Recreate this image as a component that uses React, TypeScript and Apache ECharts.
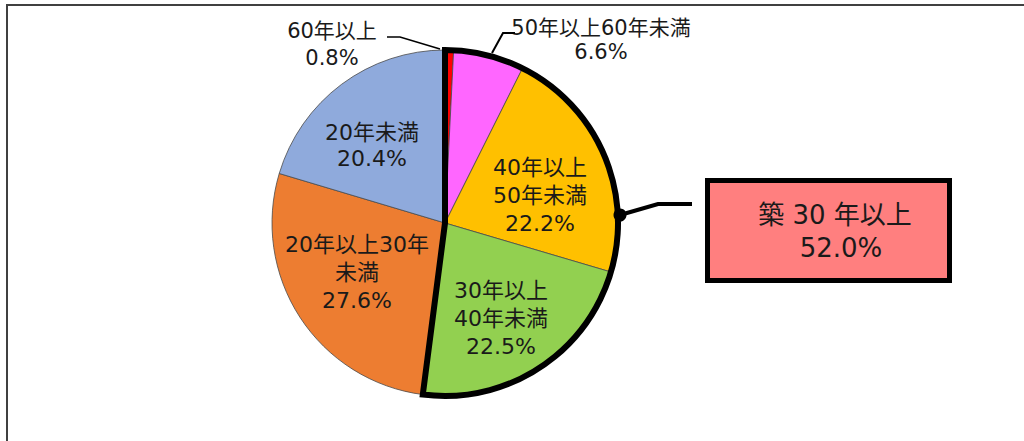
import React, { useEffect, useRef } from 'react';
import * as echarts from 'echarts';

// ---- data ----
const categories = ['60年以上', '50年以上60年未満', '40年以上50年未満', '30年以上40年未満', '20年以上30年未満', '20年未満'];
const labelNames = ['60年以上', '50年以上60年未満', '40年以上\n50年未満', '30年以上\n40年未満', '20年以上30年\n未満', '20年未満'];
const values = [0.8, 6.6, 22.2, 22.5, 27.6, 20.4];
const sliceColors = ['#FF0000', '#FF66FF', '#FFC000', '#92D050', '#ED7D31', '#8FAADC'];
const highlightCount = 4; // first four slices = 築30年以上
const calloutTitle = '築 30 年以上';
const calloutValue = '52.0%';

// ---- layout (positions / styles) ----
const CENTER: [number, number] = [445, 223];
const RADIUS = 173;
const labelPos: [number, number][] = [
  [332, 44],
  [601, 40],
  [540, 195],
  [501, 318],
  [357, 272],
  [372, 145],
];
const labelLineHeights = [27, 24, 28, 28, 28, 26];
const labelFontSizes = [21, 21, 22, 22, 22, 22];
const FONT = "'DejaVu Sans', 'Noto Sans CJK JP', sans-serif";

export default function App() {
  const ref = useRef<HTMLDivElement>(null);
  useEffect(() => {
    if (!ref.current) return;
    const chart = echarts.init(ref.current, undefined, { renderer: 'svg' });
    const highlightSum = values.slice(0, highlightCount).reduce((a, b) => a + b, 0);
    const restSum = values.slice(highlightCount).reduce((a, b) => a + b, 0);

    chart.setOption({
      animation: false,
      backgroundColor: '#ffffff',
      series: [
        {
          type: 'pie',
          center: CENTER,
          radius: RADIUS,
          startAngle: 90,
          clockwise: true,
          avoidLabelOverlap: false,
          silent: true,
          z: 2,
          itemStyle: { borderColor: '#4a4a4a', borderWidth: 0.8 },
          label: {
            show: true,
            position: 'inside',
            color: '#1a1a1a',
            fontFamily: FONT,
            formatter: (p: any) => `${labelNames[p.dataIndex]}\n${values[p.dataIndex].toFixed(1)}%`,
          },
          labelLine: { show: false },
          labelLayout: (p: any) => {
            const pos = labelPos[p.dataIndex];
            return { x: pos[0], y: pos[1], align: 'center', verticalAlign: 'middle' };
          },
          emphasis: { disabled: true },
          data: categories.map((name, i) => ({
            name,
            value: values[i],
            itemStyle: { color: sliceColors[i] },
            label: { lineHeight: labelLineHeights[i], fontSize: labelFontSizes[i] },
          })),
        },
        {
          type: 'pie',
          center: CENTER,
          radius: RADIUS,
          startAngle: 90,
          clockwise: true,
          silent: true,
          z: 3,
          label: { show: false },
          labelLine: { show: false },
          emphasis: { disabled: true },
          data: [
            {
              name: 'outline',
              value: highlightSum,
              itemStyle: { color: 'rgba(0,0,0,0)', borderColor: '#000000', borderWidth: 6, borderJoin: 'miter' },
            },
            {
              name: 'rest',
              value: restSum,
              itemStyle: { color: 'rgba(0,0,0,0)', borderWidth: 0 },
            },
          ],
        },
      ],
      graphic: [
        {
          type: 'rect',
          shape: { x: 7, y: 5, width: 1040, height: 460 },
          style: { fill: 'none', stroke: '#404040', lineWidth: 2 },
          silent: true,
        },
        {
          type: 'polyline',
          shape: { points: [[387, 37], [400, 37], [440, 49]] },
          style: { stroke: '#000000', lineWidth: 1.5, fill: 'none' },
          z: 10,
        },
        {
          type: 'polyline',
          shape: { points: [[515, 33], [503, 33], [492, 53]] },
          style: { stroke: '#000000', lineWidth: 2, fill: 'none' },
          z: 10,
        },
        {
          type: 'polyline',
          shape: { points: [[620, 215], [658, 204], [692, 204]] },
          style: { stroke: '#000000', lineWidth: 4, fill: 'none' },
          z: 10,
        },
        {
          type: 'circle',
          shape: { cx: 620, cy: 215, r: 6.5 },
          style: { fill: '#000000' },
          z: 10,
        },
        {
          type: 'rect',
          shape: { x: 707.5, y: 180.5, width: 242, height: 100 },
          style: { fill: '#FF7F7F', stroke: '#000000', lineWidth: 5 },
          z: 10,
        },
        {
          type: 'text',
          x: 835,
          y: 215,
          style: {
            text: calloutTitle,
            fill: '#1a1a1a',
            font: `26px ${FONT}`,
            align: 'center',
            verticalAlign: 'middle',
          },
          z: 11,
        },
        {
          type: 'text',
          x: 841,
          y: 248,
          style: {
            text: calloutValue,
            fill: '#1a1a1a',
            font: `26px ${FONT}`,
            align: 'center',
            verticalAlign: 'middle',
          },
          z: 11,
        },
      ],
    });
    return () => chart.dispose();
  }, []);

  return (
    <div
      ref={ref}
      style={{ position: 'fixed', left: 0, top: 0, width: 1024, height: 441, background: '#fff' }}
    />
  );
}
